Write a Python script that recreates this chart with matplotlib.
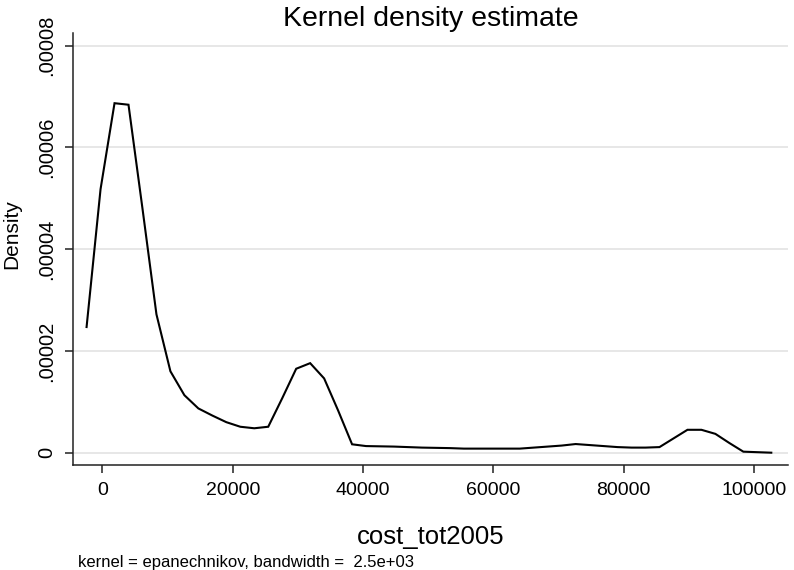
import matplotlib
matplotlib.use("Agg")
import matplotlib.pyplot as plt

# ---- data ----
cost_grid = [-2440, -295, 1850, 3995, 6140, 8285, 10430, 12575, 14720, 16865,
             19010, 21155, 23300, 25445, 27590, 29735, 31880, 34025, 36170, 38315,
             40460, 42605, 44750, 46895, 49040, 51185, 53330, 55475, 57620, 59765,
             61910, 64055, 66200, 68345, 70490, 72635, 74780, 76925, 79070, 81215,
             83360, 85505, 87650, 89795, 91940, 94085, 96230, 98375, 100520, 102665]
density_e5 = [2.47, 5.18, 6.87, 6.84, 4.80, 2.72, 1.60, 1.13, 0.87, 0.73,
              0.60, 0.51, 0.48, 0.51, 1.07, 1.65, 1.76, 1.46, 0.83, 0.165,
              0.13, 0.125, 0.12, 0.11, 0.10, 0.095, 0.09, 0.08, 0.08, 0.08,
              0.08, 0.08, 0.10, 0.12, 0.14, 0.17, 0.15, 0.13, 0.11, 0.10,
              0.10, 0.11, 0.28, 0.45, 0.45, 0.37, 0.19, 0.02, 0.01, 0.00]
density = [v * 1e-5 for v in density_e5]

xticks = [0, 20000, 40000, 60000, 80000, 100000]
xtick_labels = ["0", "20000", "40000", "60000", "80000", "100000"]
yticks = [0, 0.00002, 0.00004, 0.00006, 0.00008]
ytick_labels = ["0", ".00002", ".00004", ".00006", ".00008"]

title = "Kernel density estimate"
xlabel = "cost_tot2005"
ylabel = "Density"
note = "kernel = epanechnikov, bandwidth =  2.5e+03"

FONT = ["Liberation Sans Narrow", "Liberation Sans", "DejaVu Sans"]
plt.rcParams["font.family"] = FONT

fig = plt.figure(figsize=(7.94, 5.70), dpi=100)
ax = fig.add_axes([73 / 794, 1 - 465 / 570, (788 - 73) / 794, (465 - 33) / 570])

ax.plot(cost_grid, density, color="black", lw=1.5, solid_joinstyle="miter")

ax.set_xlim(-4524, 105230)
ax.set_ylim(-2.42e-6, 8.25e-5)

ax.set_yticks(yticks)
ax.set_yticklabels(ytick_labels, rotation=90, va="center", fontsize=14.5)
ax.set_xticks(xticks)
ax.set_xticklabels(xtick_labels, fontsize=14)

ax.grid(axis="y", color="#e3e3e3", lw=1.2)
ax.set_axisbelow(True)
for s in ["top", "right"]:
    ax.spines[s].set_visible(False)
for s in ["left", "bottom"]:
    ax.spines[s].set_color("#222222")
    ax.spines[s].set_linewidth(1.1)
ax.tick_params(direction="out", length=6, width=1.1, color="#222222", pad=6)

ax.set_title(title, fontsize=20.5, pad=5)
ax.set_xlabel(xlabel, fontsize=18.5)
ax.xaxis.set_label_coords(0.5, (465 - 525) / 432)
ax.set_ylabel(ylabel, fontsize=15)
ax.yaxis.set_label_coords((21 - 73) / 715, 0.535)

fig.text(78 / 794, 1 - 567 / 570, note, fontsize=12, ha="left", va="baseline")

fig.savefig("out.png", dpi=100, facecolor="white")
